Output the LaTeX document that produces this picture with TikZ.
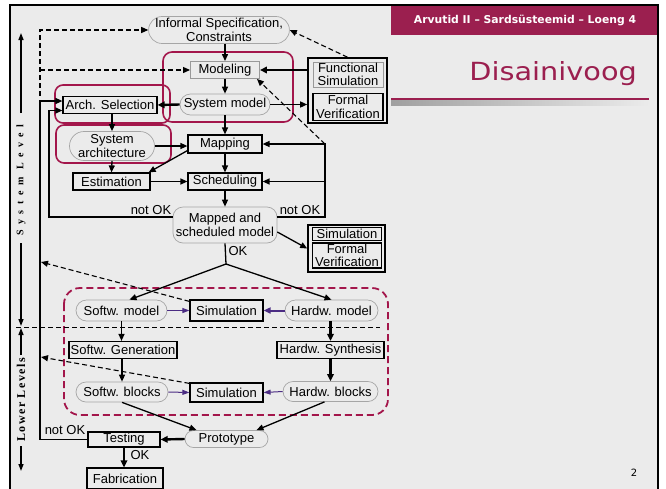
\documentclass[tikz,border=0pt]{standalone}
\usepackage{fontspec}
\usepackage{graphicx}
\setmainfont{Liberation Sans}
\newfontfamily\dejavu{DejaVu Sans}
\newfontfamily\sysfont[LetterSpace=55]{Liberation Serif}
\newfontfamily\lowfont[LetterSpace=12]{Liberation Serif}
\usetikzlibrary{arrows.meta,shapes.misc,calc}
\definecolor{bg}{HTML}{EBEBEB}
\definecolor{maroon}{HTML}{9B1F4F}
\definecolor{crim}{HTML}{A3164B}
\definecolor{purp}{HTML}{4B2C83}
\tikzset{
  every node/.style={font=\fontsize{13}{13.5}\selectfont, inner sep=0pt, align=center},
  bx/.style={draw=black, line width=1.2pt, rectangle},
  gbx/.style={draw=gray!80, line width=0.9pt, rectangle},
  stad/.style={rounded rectangle, draw=gray!70, line width=0.7pt},
  tip/.style={-{Triangle[length=7pt,width=6pt]}},
  conn/.style={line width=1.3pt, tip},
  plain/.style={line width=1.3pt},
  tconn/.style={line width=2.4pt, -{Triangle[length=7pt,width=6.5pt]}},
  dconn/.style={line width=1.1pt, dash pattern=on 5pt off 3pt, -{Triangle[length=7pt,width=6pt]}},
  pconn/.style={draw=purp, line width=1pt, -{Triangle[length=7pt,width=5pt]}},
  pthick/.style={draw=purp, line width=2pt, -{Triangle[length=7pt,width=6pt]}},
  crbox/.style={draw=crim, line width=1.6pt, rounded corners=8pt},
  axis/.style={line width=1.3pt, -{Triangle[length=7pt,width=5pt]}},
  lbl/.style={font=\fontsize{13}{13.5}\selectfont}
}
\begin{document}
\begin{tikzpicture}[x=1pt,y=-1pt]
\useasboundingbox (0,0) rectangle (666,488);
\fill[white] (0,0) rectangle (666,488);
\fill[bg] (10,5) rectangle (658,500);
% header
\fill[maroon] (391,5) rectangle (658,35);
\node[text=white, font=\dejavu\bfseries\fontsize{10.8}{12}\selectfont] (hdr) at (525,20) {Arvutid II – Sardsüsteemid – Loeng 4};
\node[text=maroon, font=\dejavu\fontsize{25}{28}\selectfont, anchor=east] (ttl) at (637,74) {\scalebox{1.15}[1]{Disainivoog}};
\fill[maroon] (391,97.8) rectangle (649,100.3);
\shade[left color=gray!75, right color=bg] (391,100.3) rectangle (649,105);
\node[font=\dejavu\fontsize{10}{12}\selectfont] (pg) at (634,473) {2};
\draw[line width=2pt] (10,500) -- (10,5) -- (658,5) -- (658,500);

% crimson boxes
\draw[crbox, rounded corners=9pt] (163,52) rectangle (293,122);
\draw[crbox] (55,85) rectangle (170,123);
\draw[crbox] (56,125) rectangle (171,163);
\draw[crim, line width=1.8pt, dash pattern=on 7pt off 4pt, rounded corners=16pt] (64,288) rectangle (388,415);

% nodes upper
\node[stad, minimum width=138pt, minimum height=27pt] (spec) at (219,30) {Informal Specification,\\Constraints};
\node[gbx, minimum width=69pt, minimum height=17pt] (model) at (225,70) {Modeling};
\node[stad, minimum width=90pt, minimum height=21pt] (sysm) at (225,104.5) {System model};
\node[bx, minimum width=94pt, minimum height=17pt] (arch) at (110,105) {Arch. Selection};
\node[stad, minimum width=85pt, minimum height=29pt] (sysa) at (112,146) {System\\architecture};
\node[bx, minimum width=74pt, minimum height=18pt] (mapp) at (225,144) {Mapping};
\node[bx, minimum width=77pt, minimum height=17pt] (est) at (111.5,181.5) {Estimation};
\node[bx, minimum width=74pt, minimum height=17pt] (sched) at (225,181.5) {Scheduling};
\node[draw=gray!70, line width=0.7pt, rounded corners=10pt, minimum width=104pt, minimum height=36pt] (msm) at (225,225) {Mapped and\\scheduled model};
\node[draw=black, line width=1.6pt, minimum width=79pt, minimum height=65pt] (fsout) at (347.5,90.5) {};
\node[gbx, minimum width=70pt, minimum height=25pt] (fs) at (348,74.5) {Functional\\Simulation};
\node[bx, minimum width=70pt, minimum height=27pt] (fv) at (348,107) {Formal\\Verification};
\node[draw=black, line width=1.6pt, minimum width=77pt, minimum height=47pt] (simout) at (346.5,248.5) {};
\node[bx, minimum width=69pt, minimum height=13pt] (sim0) at (347,234) {Simulation};
\node[bx, minimum width=69pt, minimum height=25pt] (fv0) at (347,255.5) {Formal\\Verification};

% nodes lower
\node[stad, minimum width=91pt, minimum height=21pt] (swm) at (121.5,310.5) {Softw. model};
\node[bx, minimum width=73pt, minimum height=21pt] (sim1) at (226.5,310.5) {Simulation};
\node[stad, minimum width=93pt, minimum height=21pt] (hwm) at (331.5,310.5) {Hardw. model};
\node[bx, minimum width=108pt, minimum height=17pt] (swg) at (123,350) {Softw. Generation};
\node[bx, minimum width=107pt, minimum height=17pt] (hws) at (330.5,350) {Hardw. Synthesis};
\node[stad, minimum width=92pt, minimum height=20pt] (swb) at (122,392) {Softw. blocks};
\node[bx, minimum width=73pt, minimum height=19pt] (sim2) at (226.5,392.5) {Simulation};
\node[stad, minimum width=95pt, minimum height=20pt] (hwb) at (330.5,391.5) {Hardw. blocks};
\node[stad, minimum width=83pt, minimum height=17pt] (proto) at (226.5,439) {Prototype};
\node[bx, minimum width=72pt, minimum height=15pt] (test) at (124,439.5) {Testing};
\node[bx, minimum width=76pt, minimum height=21pt] (fab) at (125,478.5) {Fabrication};

% coordinates
\coordinate (d1) at (40,30);
\coordinate (d3) at (40,96);
\coordinate (tt) at (40,101);
\coordinate (tl) at (40,439);
\coordinate (la) at (49,110.5);
\coordinate (lb) at (49,217);
\coordinate (rtop) at (325,144);
\coordinate (rb) at (325,217);
\coordinate (sp) at (226,264);
\coordinate (q1) at (41,262);
\coordinate (q2) at (41,357);

% upper connectors
\draw[conn] (spec.south -| model.north) -- (model.north);
\draw[conn] (model.south) -- (sysm.north);
\draw[tconn] (sysm.west) -- (arch.east);
\draw[conn] (sysm.south) -- (mapp.north);
\draw[conn] (sysm.east) -- (sysm.east -| fsout.west);
\draw[tconn] (fsout.west |- model.east) -- (model.east);
\draw[dconn] (fsout.north) -- (spec.east);
\draw[dconn] (rtop) -- ([xshift=-3pt]model.south east);
\draw[conn] (rb -| msm.east) -- (rb) -- (rtop) -- (mapp.east |- rtop);
\draw[conn] (sched.east -| rb) -- (sched.east);
\draw[conn] (msm.west |- lb) -- (lb) -- (la) -- (la -| arch.west);
\draw[conn] (test.west) -- (test.west -| tl) -- (tt) -- (tt -| arch.west);
\draw[dconn] (d3) -- (d1) -- (spec.west);
\draw[dconn] (d1 |- model.west) -- (model.west);
\draw[conn] (arch.south -| sysa.north) -- (sysa.north);
\draw[conn] (sysa.east) -- (sysa.east -| mapp.west);
\draw[conn] (sysa.south) -- (est.north);
\draw[conn] ([yshift=3pt]mapp.south west) -- ([xshift=-2pt]est.north east);
\draw[conn] (est.east) -- (sched.west);
\draw[conn] (mapp.south) -- (sched.north);
\draw[conn] (sched.south) -- (msm.north);
\draw[conn] ([yshift=-7pt]msm.east) -- (simout.west);
\node[lbl] (nok1) at (151,210) {not OK};
\node[lbl] (nok2) at (300,210) {not OK};
\node[lbl] (ok1) at (238,251) {OK};

% lower connectors
\draw[plain] (msm.south) -- (sp);
\draw[conn] (sp) -- ([xshift=8pt]swm.north);
\draw[conn] (sp) -- (hwm.north);
\draw[pconn] (swm.east) -- (sim1.west);
\draw[pthick] (hwm.west) -- (sim1.east);
\draw[pconn] (swb.east) -- (sim2.west);
\draw[pconn] (hwb.west) -- (sim2.east);
\draw[conn] (swm.south) -- (swm.south |- swg.north);
\draw[conn] (swg.south -| swb.north) -- (swb.north);
\draw[tconn] (hwm.south -| hws.north) -- (hws.north);
\draw[tconn] (hws.south) -- (hws.south |- hwb.north);
\draw[dconn] ([yshift=-2pt]sim1.north west) -- (q1);
\draw[dconn] ([yshift=-1pt]sim2.north west) -- (q2);
\draw[conn] (swb.south) -- ([xshift=-30pt]proto.north);
\draw[conn] ([xshift=-6pt]hwb.south) -- ([xshift=30pt]proto.north);
\draw[tconn] (proto.west) -- (test.east);
\draw[tconn] (test.south) -- (test.south |- fab.north);
\node[lbl] (nok3) at (65,430) {not OK};
\node[lbl] (ok2) at (140,455) {OK};

% level axis
\draw[line width=1pt, dash pattern=on 5pt off 3pt] (16,327) -- (380,327);
\draw[axis] (21,113) -- (21,33);
\node[rotate=90, font=\sysfont\bfseries\fontsize{10}{12}\selectfont] (syslev) at (21,180) {System Level};
\draw[axis] (21,243) -- (21,326);
\draw[axis] (21,355) -- (21,328);
\node[rotate=90, font=\lowfont\bfseries\fontsize{12}{14}\selectfont] (lowlev) at (21,400) {Lower Levels};
\draw[axis] (21,446) -- (21,471);
\end{tikzpicture}
\end{document}
